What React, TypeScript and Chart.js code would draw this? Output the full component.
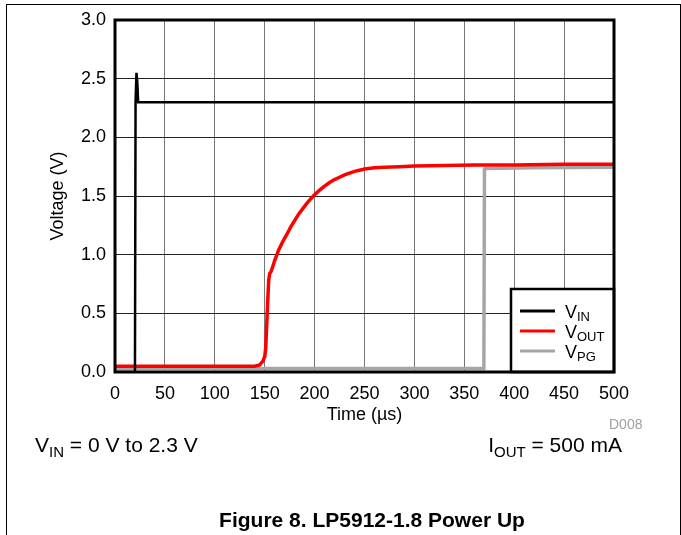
import React, { useEffect, useRef } from 'react';
import { Chart, registerables } from 'chart.js';

Chart.register(...registerables);

const FONT = '"Liberation Sans", Arial, Helvetica, sans-serif';

// Axis ticks
const xTickValues = [0, 50, 100, 150, 200, 250, 300, 350, 400, 450, 500];
const yTickValues = [0, 0.5, 1.0, 1.5, 2.0, 2.5, 3.0];

// V_IN (black)
const vinTime = [0, 20, 20.6, 21.5, 22.3, 23.2, 500];
const vinVolt = [0, 0, 2.3, 2.55, 2.48, 2.3, 2.3];

// V_OUT (red)
const voutTime = [0, 20, 50, 80, 110, 140, 145, 148, 150, 151, 152, 153, 154, 155, 156, 157, 160, 164, 168, 172, 176, 180, 184, 188, 192, 196, 200, 205, 210, 215, 220, 225, 230, 235, 240, 245, 250, 260, 270, 285, 300, 330, 360, 400, 450, 500];
const voutVolt = [0.05, 0.05, 0.05, 0.05, 0.05, 0.05, 0.06, 0.09, 0.13, 0.2, 0.4, 0.6, 0.78, 0.84, 0.85, 0.87, 0.95, 1.04, 1.11, 1.17, 1.235, 1.29, 1.345, 1.39, 1.435, 1.475, 1.51, 1.55, 1.585, 1.615, 1.64, 1.66, 1.68, 1.695, 1.71, 1.72, 1.73, 1.74, 1.745, 1.75, 1.755, 1.76, 1.765, 1.765, 1.77, 1.77];

// V_PG (gray)
const vpgTime = [0, 150, 300, 369.6, 370.2, 371, 420, 500];
const vpgVolt = [0.03, 0.03, 0.03, 0.03, 1.73, 1.735, 1.74, 1.745];

const seriesLabels = ['VIN', 'VOUT', 'VPG'];
const legendMain = ['V', 'V', 'V'];
const legendSub = ['IN', 'OUT', 'PG'];
const seriesColors = ['#000000', '#ff0000', '#a6a6a6'];
const seriesWidths = [2.5, 3.5, 3.5];

const toPoints = (t: number[], v: number[]) => t.map((x, i) => ({ x, y: v[i] }));

const framePlugin = {
  id: 'plotFrame',
  afterDatasetsDraw(chart: any) {
    const { ctx, chartArea } = chart;
    const { left, top, right, bottom } = chartArea;
    ctx.save();
    // legend box
    const bw = 103;
    const bh = 83;
    const bx = right - bw;
    const by = bottom - bh;
    ctx.fillStyle = '#ffffff';
    ctx.fillRect(bx, by, bw, bh);
    ctx.lineWidth = 2.5;
    ctx.strokeStyle = '#000000';
    ctx.strokeRect(bx, by, bw, bh);
    for (let i = 0; i < seriesLabels.length; i++) {
      const y = by + 22 + i * 20;
      ctx.beginPath();
      ctx.strokeStyle = seriesColors[i];
      ctx.lineWidth = 3;
      ctx.moveTo(bx + 9, y);
      ctx.lineTo(bx + 44, y);
      ctx.stroke();
      ctx.fillStyle = '#000000';
      ctx.textBaseline = 'alphabetic';
      ctx.textAlign = 'left';
      ctx.font = `18px ${FONT}`;
      const tx = bx + 54;
      ctx.fillText(legendMain[i], tx, y + 6.5);
      const w = ctx.measureText(legendMain[i]).width;
      ctx.font = `13px ${FONT}`;
      ctx.fillText(legendSub[i], tx + w, y + 10);
    }
    // plot border
    ctx.lineWidth = 3;
    ctx.strokeStyle = '#000000';
    ctx.strokeRect(left, top, right - left, bottom - top);
    ctx.restore();
  },
};

function PowerUpChart() {
  const ref = useRef<HTMLCanvasElement | null>(null);
  useEffect(() => {
    if (!ref.current) return;
    const chart = new Chart(ref.current, {
      type: 'line',
      data: {
        datasets: seriesLabels.map((label, i) => ({
          label,
          data: i === 0 ? toPoints(vinTime, vinVolt) : i === 1 ? toPoints(voutTime, voutVolt) : toPoints(vpgTime, vpgVolt),
          borderColor: seriesColors[i],
          backgroundColor: seriesColors[i],
          borderWidth: seriesWidths[i],
          pointRadius: 0,
          tension: 0,
          fill: false,
        })),
      },
      options: {
        responsive: false,
        animation: false,
        events: [],
        layout: { padding: { left: 0, top: 20, right: 67, bottom: 0 } },
        plugins: {
          legend: { display: false },
          tooltip: { enabled: false },
          title: { display: false },
        },
        scales: {
          x: {
            type: 'linear',
            min: 0,
            max: 500,
            afterFit: (s: any) => { s.height = 163; },
            afterBuildTicks: (s: any) => { s.ticks = xTickValues.map((value) => ({ value })); },
            grid: { color: '#777777', lineWidth: 1, drawTicks: false },
            border: { display: false },
            ticks: {
              padding: 11,
              color: '#000000',
              font: { family: FONT, size: 18 },
              maxRotation: 0,
              callback: (v: any) => String(v),
            },
            title: {
              display: true,
              text: 'Time (µs)',
              color: '#000000',
              font: { family: FONT, size: 18 },
              padding: { top: 0, bottom: 109 },
            },
          },
          y: {
            type: 'linear',
            min: 0,
            max: 3,
            afterFit: (s: any) => { s.width = 115; },
            afterBuildTicks: (s: any) => { s.ticks = yTickValues.map((value) => ({ value })); },
            grid: { color: '#222222', lineWidth: 1, drawTicks: false },
            border: { display: false },
            ticks: {
              padding: 9,
              color: '#000000',
              font: { family: FONT, size: 18 },
              callback: (v: any) => Number(v).toFixed(1),
            },
            title: {
              display: true,
              text: 'Voltage (V)',
              color: '#000000',
              font: { family: FONT, size: 18 },
              padding: { top: 47, bottom: 0 },
            },
          },
        },
      },
      plugins: [framePlugin],
    });
    return () => chart.destroy();
  }, []);
  return <canvas ref={ref} width={681} height={535} style={{ position: 'absolute', left: 0, top: 0, width: 681, height: 535 }} />;
}

export default function App() {
  const textBase: React.CSSProperties = { position: 'absolute', fontFamily: FONT, color: '#000', whiteSpace: 'nowrap', margin: 0 };
  const sub: React.CSSProperties = { fontSize: 15, verticalAlign: -5, lineHeight: 0 };
  return (
    <div style={{ position: 'absolute', left: 0, top: 0, width: 681, height: 535, background: '#fff', overflow: 'hidden' }}>
      <PowerUpChart />
      <div style={{ position: 'absolute', left: 6, top: 4, width: 673, height: 600, borderTop: '1.5px solid #000', borderLeft: '1.5px solid #000', borderRight: '1.5px solid #000' }} />
      <div style={{ ...textBase, left: 609, top: 416, fontSize: 14, lineHeight: '16px', color: '#a0a0a0' }}>D008</div>
      <div style={{ ...textBase, left: 35, top: 434, fontSize: 21, lineHeight: '22px' }}>
        V<span style={sub}>IN</span> = 0 V to 2.3 V
      </div>
      <div style={{ ...textBase, right: 59, top: 434, fontSize: 21, lineHeight: '22px' }}>
        I<span style={sub}>OUT</span> = 500 mA
      </div>
      <div style={{ ...textBase, left: 0, width: 744, textAlign: 'center', top: 508, fontSize: 21, lineHeight: '24px', fontWeight: 'bold' }}>
        Figure 8. LP5912-1.8 Power Up
      </div>
    </div>
  );
}
